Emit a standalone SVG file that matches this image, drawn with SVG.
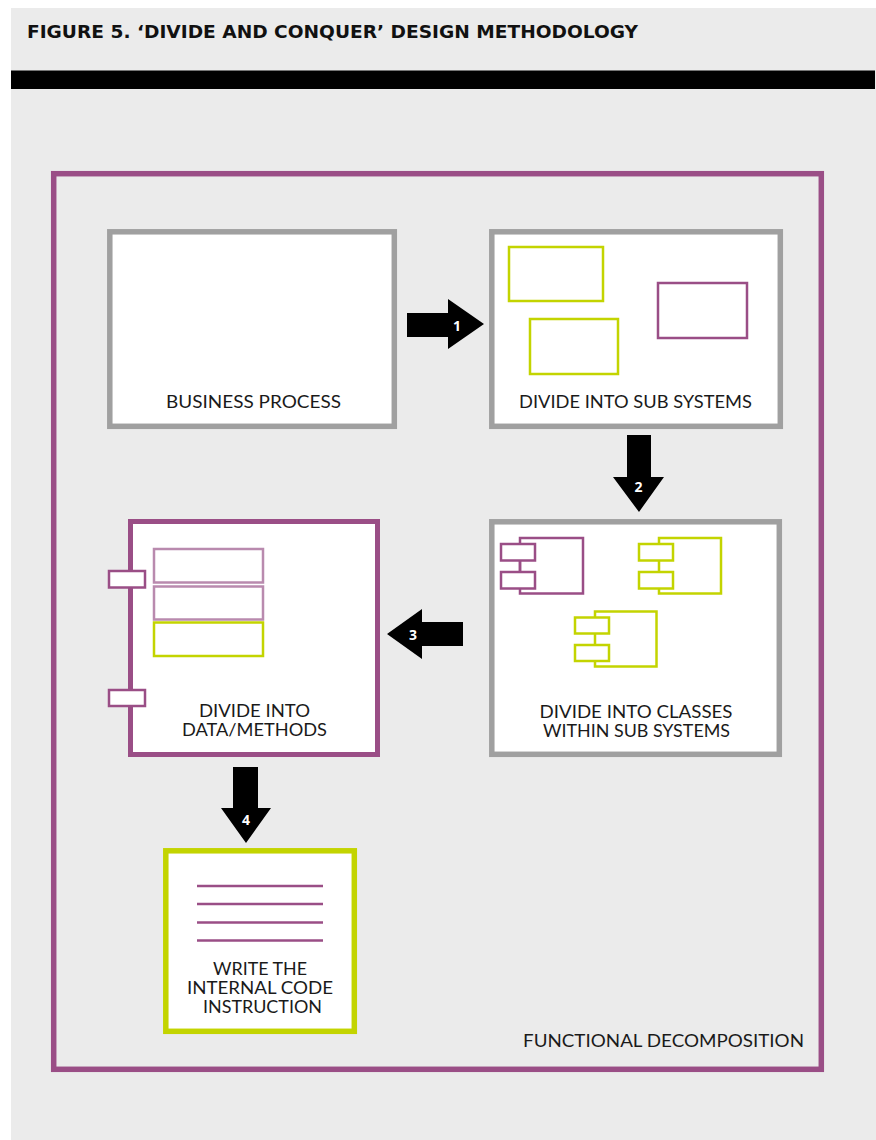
<svg xmlns="http://www.w3.org/2000/svg" width="876" height="1140" viewBox="0 0 876 1140">
<style>
.lbl{font-family:Lato,"Open Sans","Liberation Sans",sans-serif;font-weight:400;font-size:17px;fill:#1a1a1a;text-anchor:middle}
.num{font-family:"Open Sans","Liberation Sans",sans-serif;font-weight:700;font-size:14px;fill:#ffffff;text-anchor:middle;dominant-baseline:central}
.gbox{fill:#ffffff;stroke:#a0a0a0;stroke-width:5.5}
.pthin{fill:#ffffff;stroke:#9a4e86;stroke-width:2.5}
.lpthin{fill:#ffffff;stroke:#b98aae;stroke-width:2.5}
.gthin{fill:#ffffff;stroke:#c3d400;stroke-width:2.5}
.arrow{fill:#000000}
</style>
<rect x="0" y="0" width="876" height="1140" fill="#ffffff"/>
<rect x="11" y="8" width="865" height="1132" fill="#ebebeb"/>
<text x="27" y="37.5" font-family="'DejaVu Sans Condensed','DejaVu Sans','Liberation Sans',sans-serif" font-stretch="condensed" font-weight="700" font-size="18" fill="#111" textLength="611" lengthAdjust="spacingAndGlyphs">FIGURE 5. ‘DIVIDE AND CONQUER’ DESIGN METHODOLOGY</text>
<rect x="11" y="70.5" width="864" height="18.5" fill="#000000"/>

<g id="frame">
<rect x="53.7" y="173.7" width="767.6" height="895.6" fill="none" stroke="#9a4e86" stroke-width="5.5"/>
<text class="lbl" x="663.5" y="1047" textLength="281" lengthAdjust="spacingAndGlyphs">FUNCTIONAL DECOMPOSITION</text>
</g>

<g id="business-process">
<rect class="gbox" x="109.8" y="231.8" width="284.5" height="194.5"/>
<text class="lbl" x="253.5" y="408" textLength="175" lengthAdjust="spacingAndGlyphs">BUSINESS PROCESS</text>
</g>

<g id="sub-systems">
<rect class="gbox" x="491.8" y="231.8" width="288.5" height="194.5"/>
<rect class="gthin" x="509" y="247" width="94" height="54"/>
<rect class="gthin" x="530" y="319" width="88" height="55"/>
<rect class="pthin" x="658" y="283" width="89" height="55"/>
<text class="lbl" x="635.5" y="408" textLength="233" lengthAdjust="spacingAndGlyphs">DIVIDE INTO SUB SYSTEMS</text>
</g>

<g id="classes">
<rect class="gbox" x="491.8" y="521.8" width="287.5" height="232.5"/>
<g>
<rect class="pthin" x="520" y="538" width="63" height="55.5"/>
<line x1="520" y1="561" x2="520" y2="572" stroke="#9a4e86" stroke-width="2.5"/>
<rect class="pthin" x="501" y="544" width="34" height="16.5"/>
<rect class="pthin" x="501" y="572" width="34" height="16.5"/>
</g>
<g>
<rect class="gthin" x="659" y="538" width="62" height="55.5"/>
<rect class="gthin" x="639" y="544" width="34" height="16.5"/>
<rect class="gthin" x="639" y="572" width="34" height="16.5"/>
</g>
<g>
<rect class="gthin" x="595" y="611.5" width="61.5" height="55"/>
<rect class="gthin" x="575" y="617.5" width="34" height="16"/>
<rect class="gthin" x="575" y="645" width="34" height="16"/>
</g>
<text class="lbl" x="636" y="718" textLength="193" lengthAdjust="spacingAndGlyphs">DIVIDE INTO CLASSES</text>
<text class="lbl" x="636.5" y="737" textLength="187" lengthAdjust="spacingAndGlyphs">WITHIN SUB SYSTEMS</text>
</g>

<g id="data-methods">
<rect x="130.5" y="521.5" width="247" height="233" fill="#ffffff" stroke="#9a4e86" stroke-width="5"/>
<rect class="lpthin" x="154" y="549" width="109" height="33.5"/>
<rect class="lpthin" x="154" y="586.5" width="109" height="33"/>
<rect class="gthin" x="154" y="622.5" width="109" height="33.5"/>
<rect class="pthin" x="109" y="571" width="36" height="16.5"/>
<rect class="pthin" x="109" y="690" width="36" height="16"/>
<text class="lbl" x="254.5" y="717" textLength="111" lengthAdjust="spacingAndGlyphs">DIVIDE INTO</text>
<text class="lbl" x="254.5" y="736" textLength="145" lengthAdjust="spacingAndGlyphs">DATA/METHODS</text>
</g>

<g id="write-code">
<rect x="165.8" y="850.8" width="188.5" height="180.5" fill="#ffffff" stroke="#c3d400" stroke-width="5.5"/>
<g stroke="#9a4e86" stroke-width="2.5">
<line x1="197" y1="886" x2="323" y2="886"/>
<line x1="197" y1="904" x2="323" y2="904"/>
<line x1="197" y1="922.5" x2="323" y2="922.5"/>
<line x1="197" y1="940.5" x2="323" y2="940.5"/>
</g>
<text class="lbl" x="260" y="975" textLength="94" lengthAdjust="spacingAndGlyphs">WRITE THE</text>
<text class="lbl" x="260" y="994" textLength="146" lengthAdjust="spacingAndGlyphs">INTERNAL CODE</text>
<text class="lbl" x="262.5" y="1013" textLength="119" lengthAdjust="spacingAndGlyphs">INSTRUCTION</text>
</g>

<g id="connectors">
<g id="arrow1">
<polygon class="arrow" points="407,313 448,313 448,299 484,324 448,349 448,337 407,337"/>
<text class="num" x="457" y="325">1</text>
</g>
<g id="arrow2">
<polygon class="arrow" points="627,435 651,435 651,477 664,477 639,512 613,477 627,477"/>
<text class="num" x="638.5" y="486">2</text>
</g>
<g id="arrow3">
<polygon class="arrow" points="463,622 463,646 422,646 422,659 387,634 422,609 422,622"/>
<text class="num" x="413" y="634">3</text>
</g>
<g id="arrow4">
<polygon class="arrow" points="233,767 258,767 258,808 271,808 246,843 221,808 233,808"/>
<text class="num" x="246" y="819">4</text>
</g>
</g>
</svg>
